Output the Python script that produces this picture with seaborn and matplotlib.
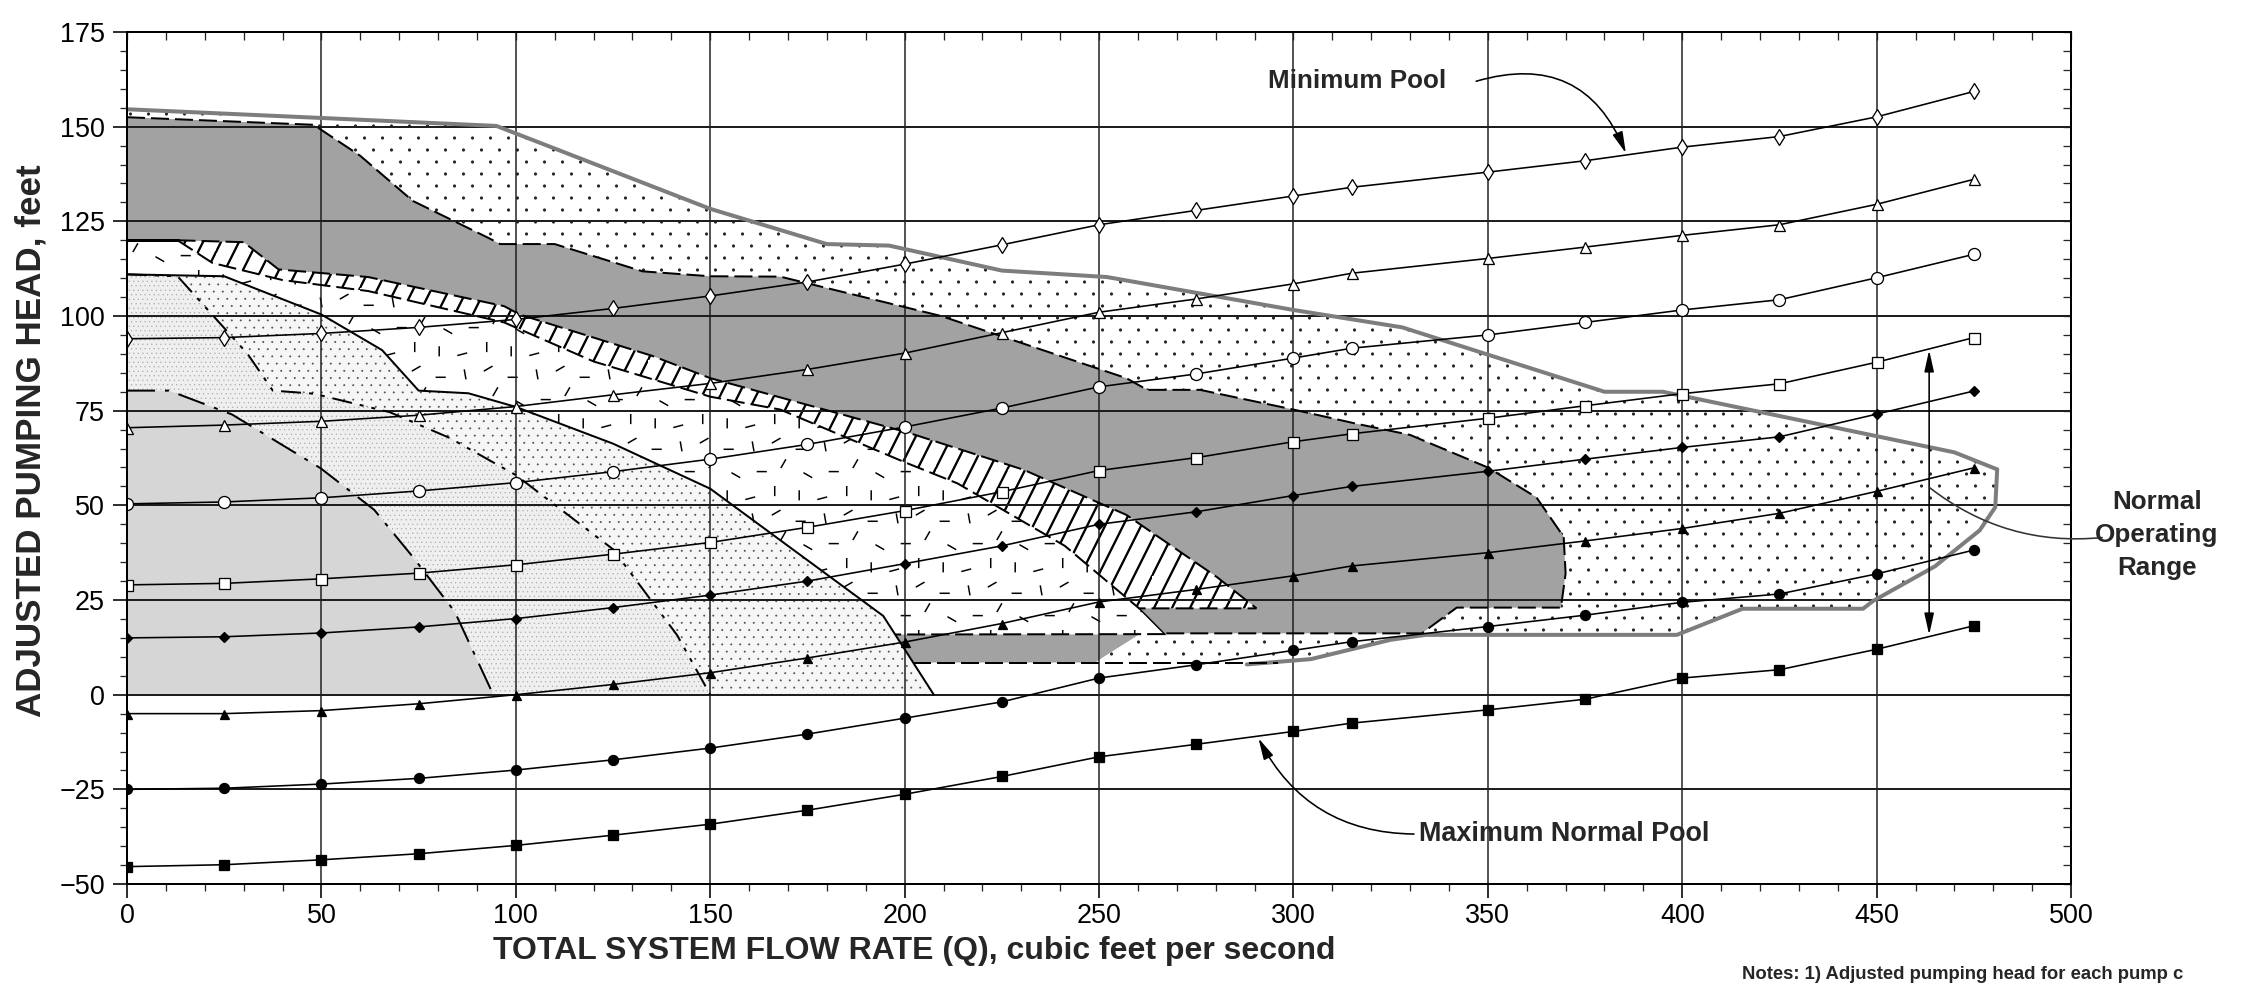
import warnings
warnings.filterwarnings("ignore")
import numpy as np
import pandas as pd
import matplotlib
matplotlib.use("Agg")
import matplotlib.pyplot as plt
import matplotlib.hatch as mhatch
from matplotlib.path import Path
from matplotlib.ticker import MultipleLocator, NullFormatter
import seaborn as sns

# ---------------- data ----------------
flow_q = [0, 25, 50, 75, 100, 125, 150, 175, 200, 225, 250, 275, 300, 315, 350, 375, 400, 425, 450, 475]
head_open_diamond = [94, 94.3, 95.4, 97, 99.1, 102, 105.3, 109, 113.7, 118.8, 124.1, 127.9, 131.7, 134, 138, 141, 144.6, 147.4, 152.6, 159.3]
head_open_triangle = [70.5, 71.2, 72.2, 73.8, 76.1, 79.2, 82.2, 85.9, 90.2, 95.6, 101, 104.5, 108.5, 111.3, 115.2, 118.2, 121.3, 124.1, 129.5, 136.1]
head_open_circle = [50.4, 50.9, 52, 53.8, 56, 58.9, 62.2, 66.1, 70.7, 75.7, 81.3, 84.7, 88.9, 91.5, 95, 98.3, 101.6, 104.3, 110.1, 116.3]
head_open_square = [29, 29.4, 30.6, 32.1, 34.3, 37.1, 40.2, 44.2, 48.6, 53.6, 59.2, 62.6, 66.8, 68.9, 73, 76.3, 79.5, 82.1, 87.8, 94.3]
head_filled_diamond = [15, 15.3, 16.3, 17.9, 20.1, 23, 26.3, 30, 34.6, 39.3, 45, 48.3, 52.6, 55, 59, 62.2, 65.3, 68.1, 74.1, 80.2]
head_filled_triangle = [-5, -5, -4.2, -2.4, 0, 2.7, 5.8, 9.7, 13.9, 18.8, 24.5, 27.8, 31.4, 34, 37.5, 40.6, 43.9, 47.9, 53.7, 59.9]
head_filled_circle = [-25, -24.7, -23.6, -22.1, -19.9, -17.2, -14.1, -10.4, -6.2, -1.9, 4.4, 7.9, 11.7, 14, 18, 21, 24.4, 26.6, 31.9, 38.2]
head_filled_square = [-45.4, -44.9, -43.6, -42, -39.8, -37.1, -34.2, -30.5, -26.3, -21.6, -16.4, -13.1, -9.7, -7.5, -4, -1.2, 4.4, 6.6, 12, 18.2]

# pump-combination capacity curves
pump1_q = [0, 10.8, 27, 49.8, 63.6, 73.5, 84.3, 94.2]
pump1_h = [80.3, 80.3, 74, 59.8, 48.8, 36.4, 21.9, 0]
pump2_q = [0, 13, 31, 37.5, 48, 67.6, 83, 100, 125, 141.5, 150]
pump2_h = [111, 110.5, 90, 80.3, 79.5, 74.6, 67.8, 58, 38.4, 15.7, 0]
pump3_q = [0, 25, 50, 65.6, 75, 87.8, 100, 125, 150, 170, 194.5, 207.5]
pump3_h = [111, 110.5, 100.4, 91, 80.3, 79.6, 76, 66.3, 54.4, 39.3, 20.8, 0]

# normal operating range envelope
env_top_q = [0, 50, 95, 150, 180, 196, 225, 252, 300, 328, 380, 395, 470, 481]
env_top_h = [154.6, 152.3, 150.2, 128.3, 119, 118.6, 112, 110.3, 101.6, 97, 80, 80, 64, 59.5]
env_low_q = [481, 480.5, 476.5, 465, 449, 446.5, 415.5, 398.6, 334, 325, 304.5, 288]
env_low_h = [59.5, 49.5, 43.4, 33.9, 24.7, 22.7, 22.7, 15.8, 15.8, 14.5, 9.4, 8.0]

# dark zone, ladder band, low strip
dark_top_q = [0, 48, 60, 73.5, 93, 96, 110, 132.6, 150, 168, 209.4, 257, 262.4, 276, 300, 316, 330, 350, 362.5, 369.5, 370, 368.8, 342, 333, 267]
dark_top_h = [152.5, 150.5, 142.3, 130.4, 120.6, 119, 119, 111.8, 110.5, 110.4, 100, 83.6, 80.5, 80.5, 75.3, 71.6, 68.6, 60, 52.1, 41.7, 32, 23, 23, 16.2, 16.2]
band_top_q = [13, 30, 39, 62, 97, 101, 135, 150, 177.6, 200.9, 230.6, 257, 280.4, 290.5]
band_top_h = [120, 119.5, 112.3, 110.3, 102.6, 100.4, 89.5, 83.6, 75.8, 69.2, 59.4, 47.5, 31, 22.8]
band_bot_q = [13, 22, 40, 62, 97, 120, 150, 168, 200, 213.6, 241.2, 260.3]
band_bot_h = [120, 114, 109.5, 106.6, 98.3, 88, 78.7, 75.3, 61.4, 55.8, 39.3, 22.8]
strip_q = [197.6, 260.3, 251.5, 249, 202.2]
strip_h = [15.9, 15.9, 10.2, 8.5, 8.5]

# ---------------- textures (custom hatch patterns) ----------------
def _dot_pattern(char, rows, cols, radius):
    class _Dots(mhatch.HatchPatternBase):
        def __init__(self, hatch, density):
            circ = Path.unit_circle()
            self.sv = circ.vertices * radius
            self.sc = circ.codes
            self.num_vertices = rows * cols * len(self.sv) if char in hatch else 0

        def set_vertices_and_codes(self, vertices, codes):
            n = len(self.sv)
            k = 0
            for r in range(rows):
                for c in range(cols):
                    x = (c + 0.25 + 0.5 * (r % 2)) / cols
                    y = (r + 0.5) / rows
                    vertices[k:k + n] = self.sv + [x, y]
                    codes[k:k + n] = self.sc
                    k += n
    return _Dots


class _DashTexture(mhatch.HatchPatternBase):
    spec = [(0.10, 0.12, 90), (0.42, 0.08, 15), (0.76, 0.18, 90), (0.22, 0.40, 150),
            (0.58, 0.45, 0), (0.88, 0.56, 60), (0.12, 0.76, 0), (0.46, 0.80, 100),
            (0.78, 0.88, 30)]

    def __init__(self, hatch, density):
        self.num_vertices = 2 * len(self.spec) if 'd' in hatch else 0

    def set_vertices_and_codes(self, vertices, codes):
        half = 0.06
        for i, (cx, cy, ang) in enumerate(self.spec):
            a = np.deg2rad(ang)
            vertices[2 * i] = (cx - half * np.cos(a), cy - half * np.sin(a))
            vertices[2 * i + 1] = (cx + half * np.cos(a), cy + half * np.sin(a))
            codes[2 * i] = Path.MOVETO
            codes[2 * i + 1] = Path.LINETO


class _Ladder(mhatch.HatchPatternBase):
    offs = np.arange(-2.0, 1.0, 0.5)

    def __init__(self, hatch, density):
        self.num_vertices = 2 * len(self.offs) if 'L' in hatch else 0

    def set_vertices_and_codes(self, vertices, codes):
        for i, b in enumerate(self.offs):
            vertices[2 * i] = (0.0, b)
            vertices[2 * i + 1] = (1.0, 2.0 + b)
            codes[2 * i] = Path.MOVETO
            codes[2 * i + 1] = Path.LINETO


mhatch._hatch_types.extend([_dot_pattern('p', 6, 4, 0.016),
                            _dot_pattern('q', 10, 8, 0.008),
                            _dot_pattern('r', 16, 16, 0.005),
                            _DashTexture, _Ladder])

# ---------------- figure ----------------
sns.set_style("ticks")
plt.rcParams['font.family'] = ['Liberation Sans', 'DejaVu Sans']
plt.rcParams['axes.unicode_minus'] = True

DPI = 72
fig = plt.figure(figsize=(2260 / DPI, 985 / DPI), dpi=DPI, facecolor='white')
ax = fig.add_axes([0.0562, 0.1025, 0.8602, 0.8650])
ax.set_facecolor('white')


def region(q, h, face, hatch=None, hcolor='black', hlw=1.0, z=0.5):
    with plt.rc_context({'hatch.linewidth': hlw}):
        poly = ax.fill(q, h, facecolor=face, edgecolor=(hcolor if hatch else 'none'),
                       hatch=hatch, linewidth=0, zorder=z)[0]
    if hasattr(poly, 'set_hatch_linewidth'):
        poly.set_hatch_linewidth(hlw)
    return poly


# envelope (sparse dots)
env_q = env_top_q + env_low_q[1:] + [203, 207.5, 0]
env_h = env_top_h + env_low_h[1:] + [8.5, 0, 0]
region(env_q, env_h, 'white', 'p', '#222222', 0.8, 0.50)

# dark gray zone
dark_q = dark_top_q + band_bot_q[::-1] + [0]
dark_h = dark_top_h + band_bot_h[::-1] + [120]
region(dark_q, dark_h, '#a2a2a2', z=0.55)

# dashed-texture zone
dz_q = [0] + band_bot_q + [267, 197.6] + pump3_q[:-1][::-1]
dz_h = [120] + band_bot_h + [15.9, 15.9] + pump3_h[:-1][::-1]
region(dz_q, dz_h, 'white', 'd', 'black', 1.5, 0.60)

# low dark strip
region(strip_q, strip_h, '#a2a2a2', z=0.62)

# ladder band
lb_q = band_top_q + band_bot_q[::-1]
lb_h = band_top_h + band_bot_h[::-1]
region(lb_q, lb_h, 'white', 'L', 'black', 2.3, 0.65)

# pump zones
region(pump3_q + [0], pump3_h + [0], '#f6f6f6', 'q', '#555555', 0.8, 0.70)
region(pump2_q + [0], pump2_h + [0], '#efefef', 'r', '#a8a8a8', 0.6, 0.75)
region(pump1_q + [0], pump1_h + [0], '#d6d6d6', z=0.80)

# boundary lines
gray_edge = dict(color='#7d7d7d', lw=4, solid_capstyle='round', solid_joinstyle='round', zorder=2)
ax.plot(env_top_q, env_top_h, **gray_edge)
ax.plot(env_low_q, env_low_h, **gray_edge)
dash_k = dict(color='black', lw=2, linestyle=(0, (9, 3)), zorder=2)
ax.plot(dark_top_q, dark_top_h, **dash_k)
ax.plot([267, 197.6], [16.0, 15.9], **dash_k)
ax.plot([202.2, 296], [8.5, 8.5], **dash_k)
ax.plot(band_top_q, band_top_h, **dash_k)
ax.plot(band_bot_q + [290.5], band_bot_h + [22.8], **dash_k)
ax.plot([260.3, 267], [22.8, 15.9], color='black', lw=1.5, zorder=2)
ax.plot([0, 13], [120, 120], color='black', lw=3, zorder=2)
ax.plot(pump1_q, pump1_h, color='black', lw=2, linestyle=(0, (14, 5, 2, 5)), zorder=2)
ax.plot(pump2_q, pump2_h, color='black', lw=2, linestyle=(0, (10, 4, 2, 4, 2, 4)), zorder=2)
ax.plot(pump3_q, pump3_h, color='black', lw=2, zorder=2)

# system curves with seaborn
series = [
    (head_open_diamond, 'd', 12, 'white'),
    (head_open_triangle, '^', 11, 'white'),
    (head_open_circle, 'o', 12, 'white'),
    (head_open_square, 's', 11, 'white'),
    (head_filled_diamond, 'D', 7, 'black'),
    (head_filled_triangle, '^', 9, 'black'),
    (head_filled_circle, 'o', 10, 'black'),
    (head_filled_square, 's', 10, 'black'),
]
for vals, mk, size, face in series:
    sns.lineplot(x=flow_q, y=vals, ax=ax, color='black', linewidth=1.6, marker=mk,
                 markersize=size, markerfacecolor=face, markeredgecolor='black',
                 markeredgewidth=1.3, zorder=4, legend=False)

# axes, ticks, grid
ax.set_xlim(0, 500)
ax.set_ylim(-50, 175)
ax.xaxis.set_major_locator(MultipleLocator(50))
ax.xaxis.set_minor_locator(MultipleLocator(10))
ax.yaxis.set_major_locator(MultipleLocator(25))
ax.yaxis.set_minor_locator(MultipleLocator(5))
ax.tick_params(which='major', direction='out', length=14, width=1.6, labelsize=27, colors='black')
ax.tick_params(axis='x', which='major', pad=5)
ax.tick_params(axis='y', which='major', pad=8)
ax.tick_params(which='minor', direction='out', length=7, width=1.3)
ax.set_axisbelow('line')
ax.xaxis.grid(True, which='major', color='#1e1e1e', lw=1.5)
ax.yaxis.grid(True, which='major', color='#1e1e1e', lw=2.0)
for s in ax.spines.values():
    s.set_linewidth(2)
    s.set_color('black')
    s.set_zorder(5)

sx = ax.secondary_xaxis('top')
sx.xaxis.set_major_locator(MultipleLocator(10))
sx.xaxis.set_major_formatter(NullFormatter())
sx.tick_params(direction='in', length=8, width=1.3)
sx.spines['top'].set_linewidth(2)
sy = ax.secondary_yaxis('right')
sy.yaxis.set_major_locator(MultipleLocator(5))
sy.yaxis.set_major_formatter(NullFormatter())
sy.tick_params(direction='in', length=8, width=1.3)
sy.spines['right'].set_linewidth(2)

ax.set_xlabel('TOTAL SYSTEM FLOW RATE (Q), cubic feet per second', fontsize=32, fontweight='bold')
ax.xaxis.set_label_coords(0.405, -0.061)
ax.set_ylabel('ADJUSTED PUMPING HEAD, feet', fontsize=35, fontweight='bold')
ax.yaxis.set_label_coords(-0.041, 0.52)

# annotations
ax.text(293.5, 162, 'Minimum Pool', ha='left', va='center', fontsize=26, fontweight='bold', zorder=6)
ax.annotate('', xy=(385.5, 143), xytext=(347, 162),
            arrowprops=dict(arrowstyle='-|>,head_length=0.9,head_width=0.22', mutation_scale=20,
                            connectionstyle='arc3,rad=-0.45', lw=1.6, color='black',
                            shrinkA=0, shrinkB=0), zorder=6)
ax.text(332.4, -36.8, 'Maximum Normal Pool', ha='left', va='center', fontsize=27, fontweight='bold', zorder=6)
ax.annotate('', xy=(291, -11.5), xytext=(331, -36.8),
            arrowprops=dict(arrowstyle='-|>,head_length=0.9,head_width=0.22', mutation_scale=20,
                            connectionstyle='arc3,rad=-0.3', lw=1.6, color='black',
                            shrinkA=0, shrinkB=0), zorder=6)
ax.annotate('', xy=(463.5, 91), xytext=(463.5, 15.8),
            arrowprops=dict(arrowstyle='<|-|>,head_length=0.9,head_width=0.2', mutation_scale=20,
                            lw=1.6, color='black', shrinkA=0, shrinkB=0), zorder=6)
ax.annotate('', xy=(463.6, 54.7), xytext=(508, 41.5), annotation_clip=False,
            arrowprops=dict(arrowstyle='-', connectionstyle='arc3,rad=-0.2', lw=1.6,
                            color='#333333', shrinkA=0, shrinkB=0), zorder=6)
fig.text(2157 / 2260, 1 - 535 / 985, 'Normal\nOperating\nRange', ha='center', va='center',
         fontsize=26, fontweight='bold', linespacing=1.45)
fig.text(1742 / 2260, 2 / 985, 'Notes: 1) Adjusted pumping head for each pump c',
         ha='left', va='bottom', fontsize=18.5, fontweight='bold')

fig.savefig('out.png', dpi=DPI, facecolor='white')
